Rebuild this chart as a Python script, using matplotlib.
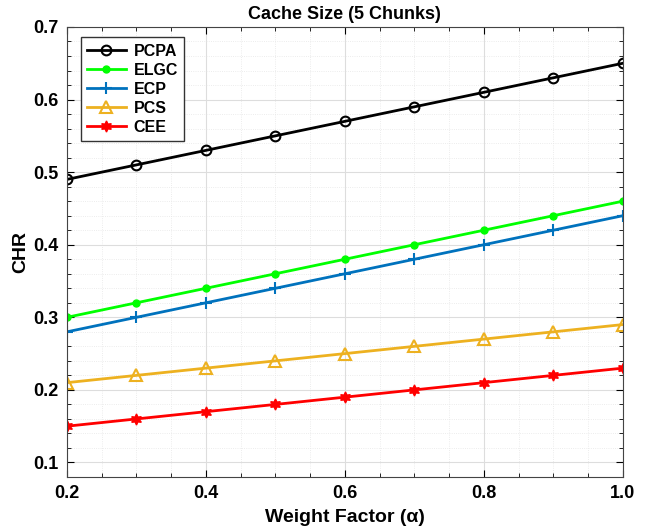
import numpy as np
import matplotlib.pyplot as plt
from matplotlib.ticker import MultipleLocator

plt.rcParams['font.family'] = ['Liberation Sans', 'DejaVu Sans']
plt.rcParams['font.weight'] = 'bold'

# Data
alpha = [0.2, 0.3, 0.4, 0.5, 0.6, 0.7, 0.8, 0.9, 1.0]
pcpa = [0.49, 0.51, 0.53, 0.55, 0.57, 0.59, 0.61, 0.63, 0.65]
elgc = [0.30, 0.32, 0.34, 0.36, 0.38, 0.40, 0.42, 0.44, 0.46]
ecp = [0.28, 0.30, 0.32, 0.34, 0.36, 0.38, 0.40, 0.42, 0.44]
pcs = [0.21, 0.22, 0.23, 0.24, 0.25, 0.26, 0.27, 0.28, 0.29]
cee = [0.15, 0.16, 0.17, 0.18, 0.19, 0.20, 0.21, 0.22, 0.23]

fig = plt.figure(figsize=(6.54, 5.31), dpi=100)
ax = fig.add_axes([0.1024, 0.1017, 0.850, 0.8475])

ax.plot(alpha, pcpa, color='black', lw=2, marker='o', ms=7, mfc='none', mew=1.5, label='PCPA')
ax.plot(alpha, elgc, color='#00ff00', lw=2, marker='o', ms=5, label='ELGC')
ax.plot(alpha, ecp, color='#0072BD', lw=2, marker='+', ms=9, mew=1.5, label='ECP')
ax.plot(alpha, pcs, color='#EDB120', lw=2, marker='^', ms=8, mfc='none', mew=1.5, label='PCS')
ax.plot(alpha, cee, color='#ff0000', lw=2, marker=(6, 1, 0), ms=8, label='CEE')

ax.set_xlim(0.2, 1.0)
ax.set_ylim(0.08, 0.7)
ax.set_xticks([0.2, 0.4, 0.6, 0.8, 1.0])
ax.set_xticklabels(['0.2', '0.4', '0.6', '0.8', '1.0'])
ax.set_yticks([0.1, 0.2, 0.3, 0.4, 0.5, 0.6, 0.7])
ax.xaxis.set_minor_locator(MultipleLocator(0.05))
ax.yaxis.set_minor_locator(MultipleLocator(0.02))
ax.tick_params(which='both', direction='in', top=True, right=True, labelsize=13)
ax.tick_params(which='major', length=5, pad=6)
ax.tick_params(which='minor', length=3)
ax.grid(which='major', color='#dddddd', lw=0.8)
ax.grid(which='minor', color='#e6e6e6', lw=0.6, ls=':')
for s in ax.spines.values():
    s.set_color('#444444')

ax.set_title('Cache Size (5 Chunks)', fontsize=13, fontweight='bold', pad=6)
ax.set_xlabel('Weight Factor (\u03b1)', fontsize=14, fontweight='bold', labelpad=5)
ax.set_ylabel('CHR', fontsize=14, fontweight='bold', labelpad=3)

leg = ax.legend(loc='upper left', bbox_to_anchor=(0.025, 0.977), fontsize=11.5,
                fancybox=False, edgecolor='#333333', framealpha=1, handlelength=2.4,
                handletextpad=0.5, borderpad=0.4, labelspacing=0.25, borderaxespad=0)
leg.get_frame().set_linewidth(1.0)

fig.savefig('out.png', dpi=100)
